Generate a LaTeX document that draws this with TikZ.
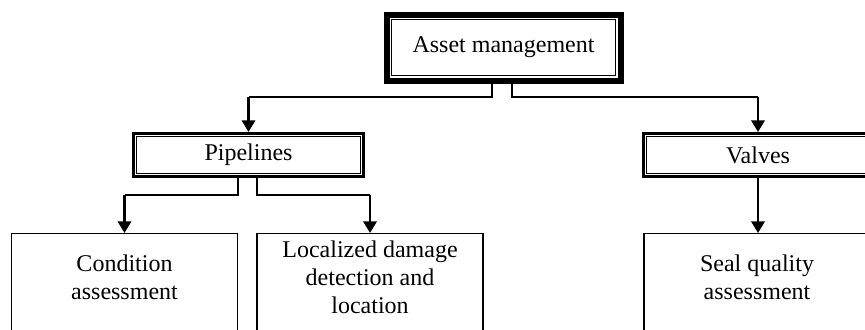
\documentclass[tikz,border=0pt]{standalone}
\usepackage{fontspec}
\setmainfont{Liberation Serif}
\usetikzlibrary{arrows.meta,positioning,calc}

\begin{document}
\begin{tikzpicture}[x=0.5pt,y=-0.5pt,font=\fontsize{12}{14}\selectfont,
  root/.style={draw,line width=3pt,fill=white,minimum width=117pt,minimum height=33pt,
               inner sep=0pt,
               path picture={\draw[line width=0.5pt]
                 ([shift={(2.6pt,-2.6pt)}]path picture bounding box.north west) rectangle
                 ([shift={(-2.6pt,2.6pt)}]path picture bounding box.south east);}},
  branch/.style={draw,line width=1.5pt,fill=white,minimum width=115pt,minimum height=21.5pt,
                 inner sep=0pt,
                 path picture={\draw[line width=0.7pt]
                   ([shift={(1.6pt,-1.6pt)}]path picture bounding box.north west) rectangle
                   ([shift={(-1.6pt,1.6pt)}]path picture bounding box.south east);}},
  leaf/.style={draw,line width=0.6pt,anchor=north,minimum width=113pt,minimum height=60pt},
  txt/.style={align=center,inner sep=0pt},
  link/.style={line width=0.6pt},
  arr/.style={-{Triangle[length=5.8pt,width=6.6pt]},line width=1.3pt}]

\clip (0,0) rectangle (865,329);

% ---------------- root and branches -----------------------------------------
\node[root] (asset) at (503.5,47.5) {Asset management};
\node[branch] (pipe) at (248.5,155) {Pipelines};
\node[branch] (valv) at (758,155) {Valves};

% ---------------- leaves (cut off at the bottom) ----------------------------
\node[leaf] (cond) at (124.5,233) {};
\node[leaf] (loc)  at (370,233) {};
\node[leaf] (seal) at (757,233) {};
\node[txt] (condt) at (124.5,277) {Condition\\assessment};
\node[txt] (loct)  at (370,277) {Localized damage\\detection and\\location};
\node[txt] (sealt) at (757,277) {Seal quality\\assessment};

% ---------------- root to branches ------------------------------------------
\coordinate (pj) at (pipe.north |- 0,97);
\coordinate (vj) at (valv.north |- 0,97);
\draw[link] ([xshift=-5.75pt]asset.south) |- (pj);
\draw[link] ([xshift=4.25pt]asset.south) |- (vj);
\draw[arr] (pj) -- (pipe.north);
\draw[arr] (vj) -- (valv.north);

% ---------------- branches to leaves ----------------------------------------
\coordinate (cj) at (cond.north |- 0,195);
\coordinate (lj) at (loc.north |- 0,195);
\draw[link] ([xshift=-5.25pt]pipe.south) |- (cj);
\draw[link] ([xshift=4.25pt]pipe.south) |- (lj);
\draw[arr] (cj) -- (cond.north);
\draw[arr] (lj) -- (loc.north);
\draw[arr] (valv.south) -- (valv.south |- seal.north);

\end{tikzpicture}
\end{document}
